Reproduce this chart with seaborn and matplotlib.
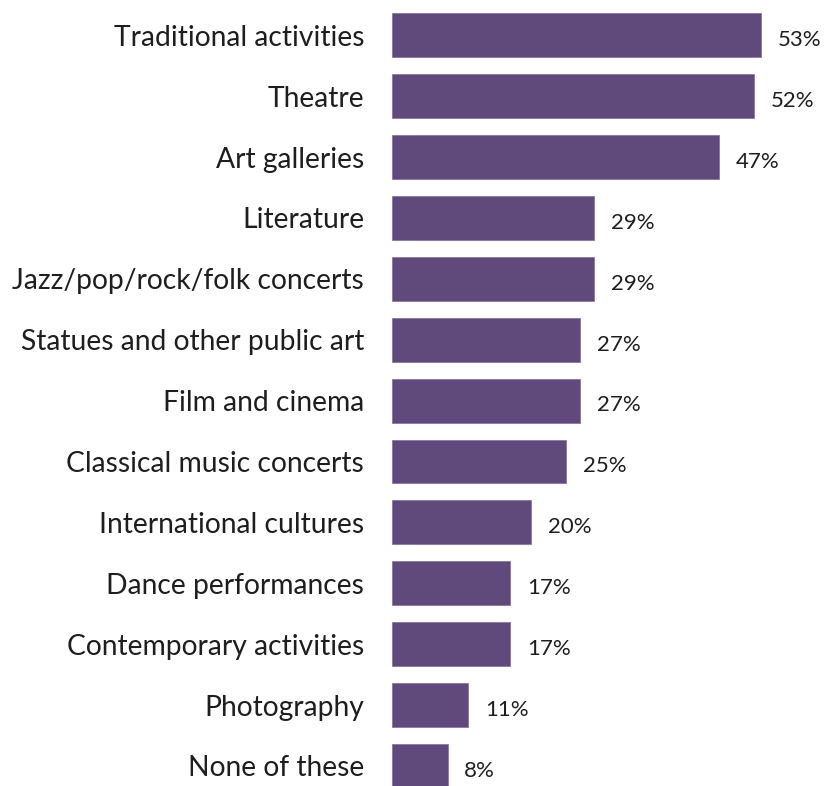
import matplotlib
matplotlib.use("Agg")
import matplotlib.pyplot as plt
import seaborn as sns
import pandas as pd

categories = [
    "Traditional activities",
    "Theatre",
    "Art galleries",
    "Literature",
    "Jazz/pop/rock/folk concerts",
    "Statues and other public art",
    "Film and cinema",
    "Classical music concerts",
    "International cultures",
    "Dance performances",
    "Contemporary activities",
    "Photography",
    "None of these",
]
values = [53, 52, 47, 29, 29, 27, 27, 25, 20, 17, 17, 11, 8]

df = pd.DataFrame({"category": categories, "value": values})

sns.set_theme(style="white")
plt.rcParams["font.family"] = ["Lato", "DejaVu Sans"]

fig = plt.figure(figsize=(8.25, 7.86), dpi=100)
ax = fig.add_axes([0.475, 0.0, 0.525, 1.0])

sns.barplot(data=df, x="value", y="category", orient="h", color="#604A7B",
            saturation=1, width=0.72, edgecolor="#8a76a3", linewidth=0.6, ax=ax)

ax.set_xlim(0, 62.2)
ax.set_ylim(12.33, -0.58)
ax.set_xlabel("")
ax.set_ylabel("")
ax.set_xticks([])
ax.tick_params(axis="y", length=0, pad=20, labelsize=20.3, labelcolor="#1e1e1e")
for s in ax.spines.values():
    s.set_visible(False)

for i, v in enumerate(values):
    ax.text(v + 2.4, i + 0.08, f"{v}%", va="center", ha="left",
            fontsize=16, color="#1e1e1e")

fig.savefig("out.png", dpi=100)
